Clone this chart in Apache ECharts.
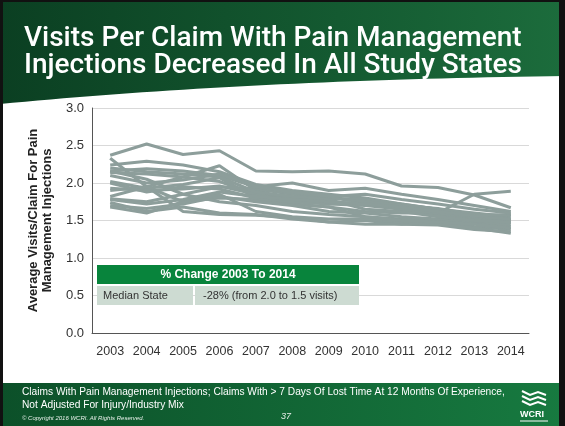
<!DOCTYPE html>
<html><head><meta charset="utf-8">
<script src="https://cdn.jsdelivr.net/npm/echarts@6/dist/echarts.min.js"></script>
<style>html,body{margin:0;padding:0;background:#fff}#c{width:565px;height:426px}</style>
</head><body><div id="c"></div>
<script>
const years = ['2003','2004','2005','2006','2007','2008','2009','2010','2011','2012','2013','2014'];
const s1  = [2.37,2.52,2.38,2.43,2.16,2.15,2.16,2.12,1.96,1.94,1.84,1.67];
const s2  = [2.33,1.95,1.62,1.58,1.57,1.54,1.48,1.50,1.45,1.44,1.38,1.35];
const s3  = [2.24,2.29,2.24,2.15,1.98,1.90,1.85,1.80,1.72,1.65,1.60,1.55];
const s4  = [2.16,2.19,2.16,2.10,1.95,2.00,1.90,1.93,1.85,1.78,1.70,1.62];
const s5  = [2.14,2.12,2.08,2.02,1.85,1.80,1.75,1.72,1.70,1.65,1.55,1.50];
const s6  = [2.02,1.93,1.98,2.07,1.80,1.72,1.68,1.62,1.60,1.60,1.85,1.89];
const s7  = [1.93,1.90,1.92,1.96,1.85,1.82,1.80,1.78,1.72,1.65,1.58,1.52];
const s8  = [1.90,1.95,2.08,2.23,1.90,1.78,1.72,1.75,1.65,1.58,1.52,1.47];
const s9  = [1.82,1.95,1.75,1.80,1.78,1.72,1.68,1.55,1.52,1.50,1.47,1.42];
const s10 = [1.79,1.75,1.85,1.95,1.92,1.85,1.80,1.75,1.70,1.66,1.58,1.57];
const s11 = [1.74,1.62,1.68,1.60,1.58,1.52,1.48,1.45,1.45,1.48,1.42,1.38];
const s12 = [1.70,1.66,1.72,1.82,1.75,1.70,1.62,1.60,1.55,1.52,1.48,1.45];
const s13 = [1.68,1.60,1.75,1.85,1.62,1.55,1.52,1.52,1.48,1.45,1.40,1.33];
const s14 = [2.16,2.05,1.85,1.75,1.70,1.62,1.58,1.55,1.50,1.48,1.45,1.40];
const s15 = [2.20,2.15,2.12,2.08,1.88,1.82,1.78,1.65,1.62,1.55,1.50,1.48];
const s16 = [2.00,1.88,1.95,1.92,1.80,1.75,1.72,1.70,1.65,1.60,1.55,1.52];
const s17 = [1.78,1.72,1.78,1.88,1.82,1.78,1.75,1.72,1.68,1.62,1.56,1.58];
const s18 = [2.10,2.00,2.04,2.12,1.95,1.88,1.82,1.85,1.78,1.72,1.65,1.60];
const allSeries = [s1,s2,s3,s4,s5,s6,s7,s8,s9,s10,s11,s12,s13,s14,s15,s16,s17,s18];

const titleText = 'Visits Per Claim With Pain Management\nInjections Decreased In All Study States';
const yName = 'Average Visits/Claim For Pain\nManagement Injections';
const tableHeader = '% Change 2003 To 2014';
const tableRowLabel = 'Median State';
const tableRowValue = '-28% (from 2.0 to 1.5 visits)';
const footer1 = 'Claims With Pain Management Injections; Claims With > 7 Days Of Lost Time At 12 Months Of Experience,';
const footer2 = 'Not Adjusted For Injury/Industry Mix';
const copyright = '\u00A9 Copyright 2016 WCRI. All Rights Reserved.';
const pageNum = '37';

// curved lower edge of the header band
const curvePts = [];
for (let i = 0; i <= 40; i++) {
  const t = i / 40;
  const x = 2*(1-t)*t*250 + t*t*565;
  const y = (1-t)*(1-t)*104 + 2*(1-t)*t*80 + t*t*76;
  curvePts.push([x, y]);
}
const bandPts = [[0,0],[565,0]].concat(curvePts.slice().reverse());

const chart = echarts.init(document.getElementById('c'), null, {renderer:'canvas'});
const font = '"Liberation Sans", Arial, sans-serif';
const option = {
  animation: false,
  backgroundColor: '#ffffff',
  title: {
    text: titleText, left: 19, top: 20,
    textStyle: {color:'#ffffff', fontSize: 28, fontWeight: 500, fontFamily: '"Roboto", "Liberation Sans", sans-serif', lineHeight: 27}
  },
  grid: {left: 92, right: 36, top: 108, bottom: 93, containLabel: false},
  xAxis: {
    type: 'category', data: years, boundaryGap: true,
    axisLine: {lineStyle: {color:'#555', width:1}},
    axisTick: {show:false},
    axisLabel: {color:'#333', fontSize: 12.5, fontFamily: font, margin: 12, interval: 0, hideOverlap: false}
  },
  yAxis: {
    type: 'value', min: 0, max: 3, interval: 0.5,
    name: yName, nameLocation: 'middle', nameGap: 38, nameRotate: 90,
    nameTextStyle: {color:'#222', fontSize: 13, fontWeight: 'bold', fontFamily: font, lineHeight: 14},
    axisLine: {show:true, lineStyle: {color:'#555'}},
    axisTick: {show:false},
    axisLabel: {color:'#333', fontSize: 13, fontFamily: font, margin: 8, formatter: v => v.toFixed(1)},
    splitLine: {lineStyle: {color:'#d9d9d9'}}
  },
  series: allSeries.map((d,i) => ({
    type: 'line', data: d, symbol: 'none', z: 3,
    lineStyle: {color:'#8d9e9b', width: 3}
  })),
  graphic: [
    {type:'polygon', z:-10, shape:{points: bandPts},
      style:{fill: new echarts.graphic.LinearGradient(0,0,1,0,[{offset:0,color:'#0b3f22'},{offset:0.6,color:'#145a31'},{offset:1,color:'#1c6c3c'}])}},
    {type:'rect', z:-8, shape:{x:0,y:383,width:565,height:43},
      style:{fill: new echarts.graphic.LinearGradient(0,0,1,0,[{offset:0,color:'#0c5029'},{offset:1,color:'#177a40'}])}},
    {type:'rect', z:50, shape:{x:0,y:0,width:3,height:426}, style:{fill:'#111'}},
    {type:'rect', z:50, shape:{x:559,y:0,width:6,height:426}, style:{fill:'#111'}},
    {type:'rect', z:50, shape:{x:0,y:0,width:565,height:2}, style:{fill:'#111'}},
    {type:'text', z:20, x:22, y:386, style:{text: footer1 + '\n' + footer2, fill:'#ffffff', font:'10.2px "Liberation Sans", Arial, sans-serif', lineHeight: 12.5}},
    {type:'text', z:20, x:22, y:415, style:{text: copyright, fill:'#e8f0ea', font:'italic 6px "Liberation Sans", Arial, sans-serif'}},
    {type:'text', z:20, x:281, y:412, style:{text: pageNum, fill:'#e8f0ea', font:'italic 9px "Liberation Sans", Arial, sans-serif'}},
    {type:'polyline', z:20, shape:{points:[[522,391],[530,395],[538,392],[546,395]]}, style:{stroke:'#ffffff', lineWidth:2}},
    {type:'polyline', z:20, shape:{points:[[522,396],[530,400],[538,397],[546,400]]}, style:{stroke:'#ffffff', lineWidth:2}},
    {type:'polyline', z:20, shape:{points:[[522,401],[530,405],[538,402],[546,405]]}, style:{stroke:'#ffffff', lineWidth:2}},
    {type:'text', z:20, x:520, y:410, style:{text:'WCRI', fill:'#ffffff', font:'bold 9px "Liberation Sans", Arial, sans-serif'}},
    {type:'line', z:20, shape:{x1:520,y1:421,x2:548,y2:421}, style:{stroke:'#ffffff', lineWidth:1}},
    {type:'rect', z:100, shape:{x:97,y:265,width:262,height:19}, style:{fill:'#08843c'}},
    {type:'text', z:101, x:228, y:274.5, style:{text: tableHeader, fill:'#ffffff', font:'bold 12px "Liberation Sans", Arial, sans-serif', textAlign:'center', textVerticalAlign:'middle'}},
    {type:'rect', z:100, shape:{x:97,y:286,width:96,height:19}, style:{fill:'#cddbd2'}},
    {type:'rect', z:100, shape:{x:195,y:286,width:164,height:19}, style:{fill:'#cddbd2'}},
    {type:'text', z:101, x:103, y:295.5, style:{text: tableRowLabel, fill:'#333', font:'11px "Liberation Sans", Arial, sans-serif', textVerticalAlign:'middle'}},
    {type:'text', z:101, x:203, y:295.5, style:{text: tableRowValue, fill:'#333', font:'11px "Liberation Sans", Arial, sans-serif', textVerticalAlign:'middle'}}
  ]
};
chart.setOption(option);
</script></body></html>
